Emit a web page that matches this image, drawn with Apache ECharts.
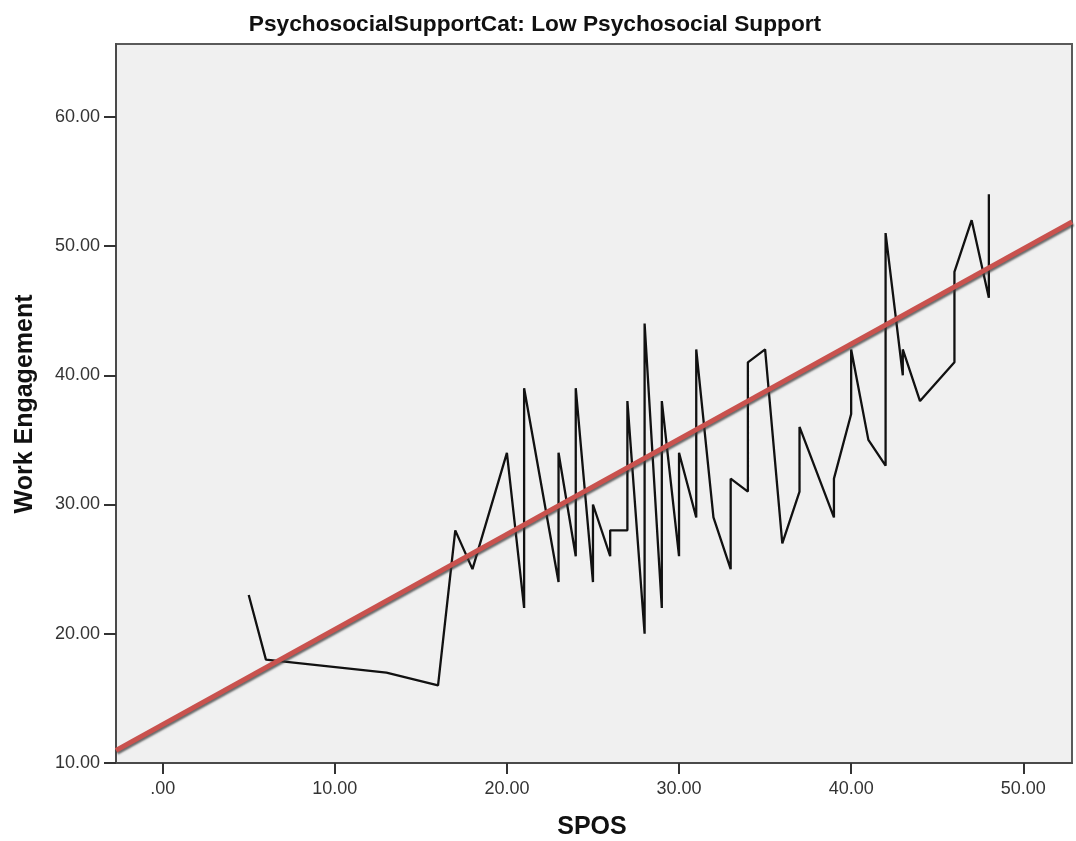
<!DOCTYPE html>
<html>
<head>
<meta charset="utf-8">
<script src="https://cdn.jsdelivr.net/npm/echarts@6/dist/echarts.min.js"></script>
<style>
html,body{margin:0;padding:0;background:#fff;}
#chart{width:1076px;height:841px;}
</style>
</head>
<body>
<div id="chart"></div>
<script>
const titleText = "PsychosocialSupportCat: Low Psychosocial Support";
const xAxisTitle = "SPOS";
const yAxisTitle = "Work Engagement";

const sposValues = [5,6,13,16,17,18,20,21,21,23,23,24,24,25,25,26,26,27,27,28,28,29,29,30,30,31,31,32,33,33,34,34,35,36,37,37,39,39,40,40,41,42,42,43,43,44,46,46,47,48,48];
const engagementValues = [23,18,17,16,28,25,34,22,39,24,34,26,39,24,30,26,28,28,38,20,44,22,38,26,34,29,42,29,25,32,31,41,42,27,31,36,29,32,37,42,35,33,51,40,42,38,41,48,52,46,54];

const fitLineX = [-2.71, 52.83];
const fitLineY = [10.98, 51.87];

const xTickValues = [0,10,20,30,40,50];
const yTickValues = [10,20,30,40,50,60];

const xMin = -2.71, xMax = 52.83;
const yMin = 10, yMax = 65.63;

function fmt(v){ return v === 0 ? ".00" : v.toFixed(2); }

const chart = echarts.init(document.getElementById('chart'), null, {renderer:'canvas'});

const gridLeft = 116, gridTop = 44, gridRight = 4, gridBottom = 78;

chart.setOption({
  animation: false,
  backgroundColor: '#ffffff',
  grid: {
    left: gridLeft, top: gridTop, right: gridRight, bottom: gridBottom,
    show: true, backgroundColor: '#f0f0f0', borderColor: '#5a5a5a', borderWidth: 2
  },
  xAxis: {
    type: 'value', min: xMin, max: xMax,
    axisLine: {show: true, onZero: false, lineStyle: {color: '#4a4a4a', width: 2}},
    axisTick: {show: true, length: 11, lineStyle: {color: '#333', width: 2}, customValues: xTickValues},
    axisLabel: {customValues: xTickValues, formatter: fmt, color: '#333', fontFamily: 'Liberation Sans, Arial, sans-serif', fontSize: 18, margin: 17},
    splitLine: {show: false}
  },
  yAxis: {
    type: 'value', min: yMin, max: yMax,
    axisLine: {show: true, onZero: false, lineStyle: {color: '#4a4a4a', width: 2}},
    axisTick: {show: true, length: 12, lineStyle: {color: '#333', width: 2}, customValues: yTickValues},
    axisLabel: {customValues: yTickValues, formatter: fmt, color: '#333', fontFamily: 'Liberation Sans, Arial, sans-serif', fontSize: 18, margin: 16},
    splitLine: {show: false}
  },
  graphic: [
    {type: 'text', x: 535, y: 25, style: {text: titleText, font: 'bold 22.7px "Liberation Sans", Arial, sans-serif', fill: '#111', align: 'center', verticalAlign: 'middle'}},
    {type: 'text', x: 592, y: 827, style: {text: xAxisTitle, font: 'bold 25px "Liberation Sans", Arial, sans-serif', fill: '#111', align: 'center', verticalAlign: 'middle'}},
    {type: 'text', x: 25, y: 404, rotation: Math.PI/2, style: {text: yAxisTitle, font: 'bold 25px "Liberation Sans", Arial, sans-serif', fill: '#111', align: 'center', verticalAlign: 'middle'}}
  ],
  series: [
    {
      type: 'line', data: sposValues.map((x,i)=>[x, engagementValues[i]]),
      showSymbol: false, symbol: 'none', clip: true, z: 2,
      lineStyle: {color: '#111', width: 2.3}
    },
    {
      type: 'line', data: fitLineX.map((x,i)=>[x, fitLineY[i]]),
      showSymbol: false, symbol: 'none', clip: true, z: 3,
      lineStyle: {color: '#c9524e', width: 5, shadowColor: 'rgba(60,60,60,0.75)', shadowBlur: 2, shadowOffsetX: 1, shadowOffsetY: 2}
    }
  ]
});
</script>
</body>
</html>
